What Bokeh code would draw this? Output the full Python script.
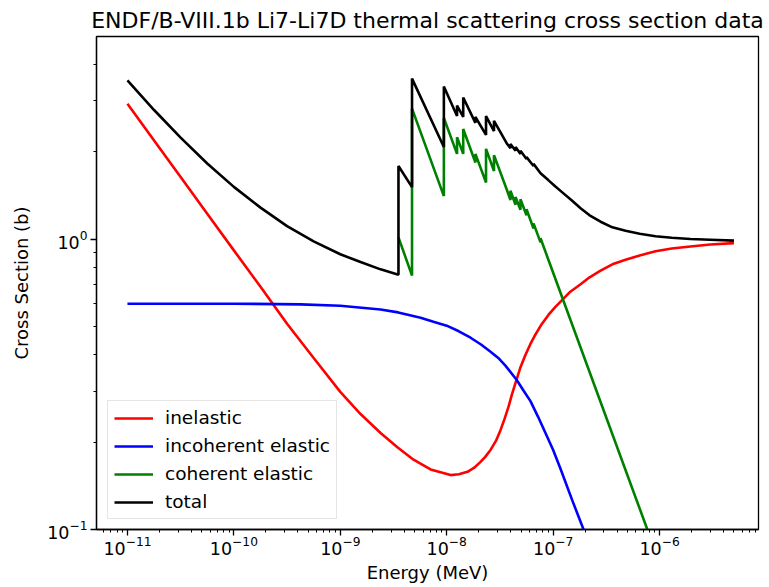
from bokeh.plotting import figure
from bokeh.models import FixedTicker, Legend, LegendItem, Range1d
from bokeh.embed import file_html
from bokeh.resources import INLINE

# ---------------- data ----------------
inel_E = [1e-11, 1.78e-11, 3.16e-11, 5.62e-11, 1e-10, 1.78e-10, 3.16e-10, 5.62e-10,
          1e-9, 1.55e-9, 2.39e-9, 3.44e-9, 4.88e-9, 7.05e-9, 1.087e-8, 1.3e-8,
          1.567e-8, 1.8e-8, 2.08e-8, 2.3e-8, 2.58e-8, 2.9e-8, 3.2e-8, 3.5e-8, 3.81e-8,
          4.1e-8, 4.43e-8, 4.9e-8, 5.50e-8, 6.1e-8, 6.82e-8, 7.8e-8, 9.06e-8, 1.05e-7,
          1.225e-7, 1.45e-7, 1.81e-7, 2.2e-7, 2.79e-7, 3.6e-7, 4.79e-7, 6.5e-7,
          9.16e-7, 1.3e-6, 1.95e-6, 3e-6, 5e-6]
inel_xs = [2.93, 2.19, 1.64, 1.225, 0.916, 0.686, 0.512, 0.39,
           0.298, 0.25, 0.215, 0.192, 0.174, 0.161, 0.154, 0.155,
           0.158, 0.163, 0.171, 0.178, 0.188, 0.202, 0.220, 0.241, 0.265,
           0.292, 0.320, 0.36, 0.40, 0.435, 0.47, 0.51, 0.55, 0.585,
           0.62, 0.66, 0.70, 0.74, 0.78, 0.82, 0.85, 0.88,
           0.91, 0.93, 0.945, 0.96, 0.97]

incoh_E = [1e-11, 1e-10, 4.23e-10, 1e-9, 2.39e-9, 3.5e-9, 5.68e-9, 7.5e-9, 1e-8,
           1.3e-8, 1.675e-8, 2.1e-8, 2.58e-8, 3.05e-8, 3.56e-8, 4.53e-8, 5.3e-8,
           6.12e-8, 7.2e-8, 8.47e-8, 1e-7, 1.172e-7, 1.5e-7, 1.93e-7, 5e-7, 1e-6, 5e-6]
incoh_xs = [0.600, 0.600, 0.597, 0.590, 0.573, 0.560, 0.537, 0.520, 0.504,
            0.482, 0.458, 0.434, 0.41, 0.39, 0.367, 0.328, 0.300,
            0.277, 0.245, 0.215, 0.188, 0.162, 0.127, 0.100, 0.040, 0.0196, 0.0040]

coh_E = [3.52e-9, 4.72e-9, 4.72e-9, 9.40e-9, 9.40e-9, 1.25e-8, 1.25e-8, 1.429e-8, 1.429e-8,
         1.86e-8, 1.86e-8, 2.34e-8, 2.34e-8, 2.78e-8, 2.78e-8, 3.70e-8, 3.97e-8, 3.97e-8,
         4.43e-8, 4.43e-8, 4.93e-8, 4.93e-8, 5.62e-8, 5.62e-8, 6.54e-8, 6.54e-8,
         7.61e-8, 7.61e-8, 8.79e-8, 5e-6]
coh_xs = [1.016, 0.750, 2.82, 1.409, 2.62, 1.97, 2.25, 1.97, 2.40,
          1.84, 1.97, 1.57, 2.05, 1.72, 1.95, 1.47, 1.366, 1.47,
          1.315, 1.40, 1.264, 1.375, 1.21, 1.27, 1.09, 1.135,
          0.976, 1.008, 0.873, 0.01535]

tot_E = [1e-11, 1.78e-11, 3.16e-11, 5.62e-11, 1e-10, 1.78e-10, 3.16e-10, 5.62e-10,
         1e-9, 1.55e-9, 2.39e-9, 3.52e-9, 3.52e-9,
         4.72e-9, 4.72e-9, 9.40e-9, 9.40e-9, 1.25e-8, 1.25e-8, 1.429e-8, 1.429e-8,
         1.86e-8, 1.86e-8, 2.34e-8, 2.34e-8, 2.78e-8, 2.78e-8, 3.70e-8, 3.97e-8, 3.97e-8,
         4.43e-8, 4.43e-8, 4.93e-8, 4.93e-8, 5.62e-8, 5.62e-8, 6.54e-8, 6.54e-8, 7.61e-8,
         9e-8, 1.05e-7, 1.25e-7, 1.5e-7, 1.81e-7, 2.2e-7, 2.79e-7, 3.6e-7, 4.79e-7,
         6.5e-7, 9.16e-7, 1.3e-6, 1.95e-6, 3e-6, 5e-6]
tot_xs = [3.53, 2.79, 2.24, 1.825, 1.516, 1.286, 1.11, 0.984,
          0.888, 0.835, 0.788, 0.755, 1.789,
          1.513, 3.58, 2.08, 3.36, 2.66, 2.89, 2.64, 3.08,
          2.52, 2.64, 2.29, 2.66, 2.36, 2.56, 2.13, 2.06, 2.13,
          2.02, 2.08, 1.97, 2.02, 1.89, 1.92, 1.79, 1.82, 1.69,
          1.60, 1.52, 1.44, 1.36, 1.28, 1.21, 1.15, 1.10, 1.07,
          1.045, 1.025, 1.012, 1.003, 0.997, 0.99]

x_major = [1e-11, 1e-10, 1e-9, 1e-8, 1e-7, 1e-6]
y_major = [0.1, 1.0]

x_minor = [m * 10.0 ** k for k in range(-12, -5) for m in range(2, 10)]
y_minor = [m * 0.1 for m in range(2, 10)] + [2.0, 3.0, 4.0]

FONT = "DejaVu Sans"

p = figure(width=768, height=586, x_axis_type="log", y_axis_type="log",
           x_range=Range1d(5.12e-12, 8.5e-6), y_range=Range1d(0.1, 5.0),
           output_backend="svg", toolbar_location=None,
           min_border_left=96, min_border_right=10, min_border_top=36,
           min_border_bottom=57,
           title="ENDF/B-VIII.1b Li7-Li7D thermal scattering cross section data")

p.title.text_font = FONT
p.title.text_font_size = "22px"
p.title.text_font_style = "normal"
p.title.align = "center"
p.title.standoff = 7
p.title.text_color = "black"

p.grid.visible = False
p.outline_line_color = "black"
p.outline_line_width = 1.3
p.outline_line_alpha = 1.0
p.background_fill_color = "white"

for ax in (p.xaxis[0], p.yaxis[0]):
    ax.major_label_text_font = FONT
    ax.major_label_text_font_size = "17.5px"
    ax.major_label_text_color = "black"
    ax.axis_label_text_font = FONT
    ax.axis_label_text_font_size = "18px"
    ax.axis_label_text_font_style = "normal"
    ax.axis_label_text_color = "black"
    ax.major_tick_out = 6
    ax.major_tick_in = 0
    ax.minor_tick_out = 3
    ax.minor_tick_in = 0
    ax.major_tick_line_width = 1.3
    ax.minor_tick_line_width = 1
    ax.axis_line_width = 1.3
    ax.major_label_standoff = 3

p.xaxis.ticker = FixedTicker(ticks=x_major, minor_ticks=x_minor)
p.yaxis.ticker = FixedTicker(ticks=y_major, minor_ticks=y_minor)
p.xaxis.axis_label = "Energy (MeV)"
p.yaxis.axis_label = "Cross Section (b)"
p.xaxis.major_label_standoff = 0
p.xaxis.axis_label_standoff = 4
p.yaxis.axis_label_standoff = 12

LW = 2.6
r1 = p.line(inel_E, inel_xs, line_color="#ff0000", line_width=LW)
r2 = p.line(incoh_E, incoh_xs, line_color="#0000ff", line_width=LW)
r3 = p.line(coh_E, coh_xs, line_color="#008000", line_width=LW)
r4 = p.line(tot_E, tot_xs, line_color="#000000", line_width=LW)

legend = Legend(items=[LegendItem(label="inelastic", renderers=[r1]),
                       LegendItem(label="incoherent elastic", renderers=[r2]),
                       LegendItem(label="coherent elastic", renderers=[r3]),
                       LegendItem(label="total", renderers=[r4])],
                location=(11, 10))
legend.label_text_font = FONT
legend.label_text_font_size = "18.5px"
legend.label_text_color = "black"
legend.glyph_width = 39
legend.glyph_height = 18
legend.label_height = 18
legend.label_standoff = 12
legend.spacing = 7
legend.padding = 6
legend.margin = 0
legend.border_line_color = "#cccccc"
legend.border_line_width = 1
legend.background_fill_alpha = 0.8
p.add_layout(legend)

open("out.html", "w").write(file_html(p, INLINE))
